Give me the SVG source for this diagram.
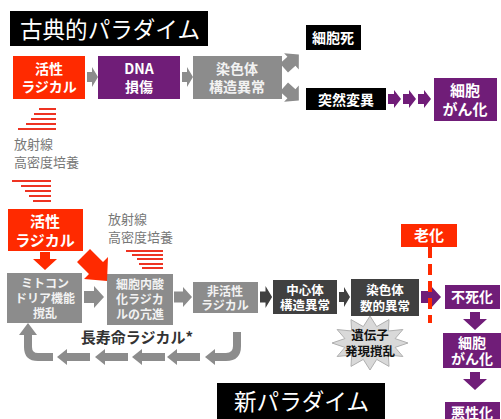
<svg xmlns="http://www.w3.org/2000/svg" width="501" height="419" viewBox="0 0 501 419">
<style>
text{font-family:"Noto Sans CJK JP","Noto Sans",sans-serif;font-weight:bold;text-anchor:middle}
.t{fill:#fff;font-size:14px}
.tl{fill:#f2f2f2;font-size:12px}
.title{fill:#fff;font-size:23px;font-weight:normal;text-anchor:start}
.note{fill:#777;font-size:13px;font-weight:normal;text-anchor:start}
.red{fill:#ff2a00}
.pur{fill:#701d78}
.gry{fill:#8c8c8c}
.drk{fill:#404040}
.blk{fill:#000}
.ray{stroke:#ee3322;stroke-width:2}
.gl{fill:#8c8c8c}
</style>
<defs>
<path id="ba" d="M0,-5 H5 V-10 L11,0 L5,10 V5 H0 Z"/>
<path id="bb" d="M0,-6 H10 V-11 L20,0 L10,11 V6 H0 Z"/>
<path id="ch" d="M0,-5 H6 V-9 L13,0 L6,9 V5 H0 Z"/>
<path id="dn" d="M-5,0 H5 V7 H12 L0,18 L-12,7 H-5 Z"/>
<path id="lf" d="M0,0 L10,-8 V-4 H33 V4 H10 V8 Z"/>
</defs>

<g id="title-classic"><rect x="10" y="11" width="198" height="35" class="blk"/><text x="20" y="38" class="title" textLength="180" lengthAdjust="spacingAndGlyphs">古典的パラダイム</text></g>

<g id="n-radical1"><rect x="13" y="56" width="72" height="43" class="red"/><text x="49" y="74" class="t">活性</text><text x="49" y="92" class="t">ラジカル</text></g>
<g id="n-dna"><rect x="98" y="56" width="82" height="43" class="pur"/><text x="139" y="74" class="t">DNA</text><text x="139" y="92" class="t">損傷</text></g>
<g id="n-chrom1"><rect x="193" y="56" width="89" height="43" class="gry"/><text x="237" y="74" class="tl" style="font-size:14px">染色体</text><text x="237" y="92" class="tl" style="font-size:14px">構造異常</text></g>
<g id="n-death"><rect x="306" y="25" width="55" height="25" class="blk"/><text x="333" y="43" class="t">細胞死</text></g>
<g id="n-mut"><rect x="306" y="88" width="80" height="22" class="blk"/><text x="346" y="105" class="t">突然変異</text></g>
<g id="n-cancer1"><rect x="434" y="78" width="63" height="43" class="pur"/><text x="465" y="96" class="t" style="font-size:15px">細胞</text><text x="465" y="115" class="t" style="font-size:15px">がん化</text></g>

<g id="rays1">
<line x1="39" y1="109" x2="56" y2="109" class="ray"/>
<line x1="34" y1="114" x2="56" y2="114" class="ray"/>
<line x1="31" y1="119" x2="56" y2="119" class="ray"/>
<line x1="26" y1="124" x2="56" y2="124" class="ray"/>
<line x1="18" y1="129" x2="56" y2="129" class="ray"/>
</g>
<g id="note1"><text x="14" y="149" class="note">放射線</text><text x="14" y="167" class="note">高密度培養</text></g>
<g id="rays2">
<line x1="12" y1="181" x2="51" y2="181" class="ray"/>
<line x1="21" y1="186" x2="51" y2="186" class="ray"/>
<line x1="25" y1="191" x2="51" y2="191" class="ray"/>
<line x1="29" y1="196" x2="51" y2="196" class="ray"/>
<line x1="33" y1="201" x2="51" y2="201" class="ray"/>
</g>

<g id="n-radical2"><rect x="8" y="209" width="75" height="42" class="red"/><text x="45" y="227" class="t" style="font-size:15px">活性</text><text x="45" y="246" class="t" style="font-size:15px">ラジカル</text></g>
<g id="note2"><text x="108" y="224" class="note">放射線</text><text x="108" y="242" class="note">高密度培養</text></g>
<g id="rays3">
<line x1="126" y1="251" x2="163" y2="251" class="ray"/>
<line x1="132" y1="255" x2="163" y2="255" class="ray"/>
<line x1="137" y1="259" x2="163" y2="259" class="ray"/>
<line x1="139" y1="264" x2="163" y2="264" class="ray"/>
<line x1="142" y1="268" x2="163" y2="268" class="ray"/>
</g>

<g id="n-mito"><rect x="7" y="273" width="75" height="50" class="gry"/><text x="45" y="288" class="tl">ミトコン</text><text x="45" y="303" class="tl">ドリア機能</text><text x="45" y="318" class="tl">撹乱</text></g>
<g id="n-oxid"><rect x="107" y="274" width="66" height="51" class="gry"/><text x="140" y="289" class="tl">細胞内酸</text><text x="140" y="304" class="tl">化ラジカ</text><text x="140" y="319" class="tl">ルの亢進</text></g>
<g id="n-inact"><rect x="193" y="282" width="65" height="31" class="gry"/><text x="225" y="296" class="tl">非活性</text><text x="225" y="310" class="tl">ラジカル</text></g>
<g id="n-centro"><rect x="273" y="280" width="64" height="34" class="drk"/><text x="305" y="295" class="t" style="font-size:12.5px">中心体</text><text x="305" y="310" class="t" style="font-size:12.5px">構造異常</text></g>
<g id="n-chrom2"><rect x="351" y="279" width="68" height="37" class="drk"/><text x="385" y="295" class="t" style="font-size:12.5px">染色体</text><text x="385" y="311" class="t" style="font-size:12.5px">数的異常</text></g>
<g id="n-immortal"><rect x="445" y="285" width="55" height="24" class="pur"/><text x="472" y="302" class="t">不死化</text></g>
<g id="n-cancer2"><rect x="443" y="333" width="58" height="35" class="pur"/><text x="472" y="348" class="t">細胞</text><text x="472" y="364" class="t">がん化</text></g>
<g id="n-malig"><rect x="445" y="402" width="55" height="20" class="pur"/><text x="472" y="418" class="t">悪性化</text></g>
<g id="n-aging"><rect x="401" y="224" width="56" height="23" class="red"/><text x="429" y="241" class="t" style="font-size:15px">老化</text></g>
<g id="n-gene"><polygon points="408,343 395.1,347.4 402.9,356.5 388.4,355 389,366.4 376.7,359.4 370,370 363.3,359.4 351,366.4 351.6,355 337.1,356.5 344.9,347.4 332,343 344.9,338.6 337.1,329.5 351.6,331 351,319.6 363.3,326.6 370,316 376.7,326.6 389,319.6 388.4,331 402.9,329.5 395.1,338.6" fill="#d9d9d9" stroke="#b0b0b0" stroke-width="1"/><text x="370" y="340" style="font-size:12.5px;fill:#111">遺伝子</text><text x="370" y="356" style="font-size:12.5px;fill:#111">発現撹乱</text></g>
<g id="n-label"><text x="137" y="343" style="font-size:15px;fill:#333">長寿命ラジカル*</text></g>
<g id="title-new"><rect x="217" y="383" width="168" height="36" class="blk"/><text x="234" y="410" class="title" textLength="135" lengthAdjust="spacingAndGlyphs">新パラダイム</text></g>

<g id="connectors">
<use href="#ba" x="87" y="77" class="gl"/>
<use href="#ba" x="182" y="77" class="gl"/>
<use href="#bb" transform="translate(284,68) rotate(-42)" class="gl"/>
<use href="#bb" transform="translate(284,87) rotate(42)" class="gl"/>
<use href="#ch" x="388" y="99" class="pur"/>
<use href="#ch" x="403" y="99" class="pur"/>
<use href="#ch" x="418" y="99" class="pur"/>
<use href="#dn" x="45" y="252" class="red"/>
<path d="M83,256 L90,249 L103,262 L108,257 L107,281 L84,279 L89,274 L77,262 Z" class="red"/>
<use href="#bb" x="84" y="297" class="gl"/>
<use href="#bb" transform="translate(174,297) scale(0.9)" class="gl"/>
<use href="#ba" transform="translate(260,297) scale(1.1)" class="drk"/>
<use href="#ba" transform="translate(339,297)" class="drk"/>
<use href="#bb" x="421" y="297" class="pur"/>
<use href="#dn" x="475" y="312" class="pur"/>
<use href="#dn" x="475" y="372" class="pur"/>
<line x1="430" y1="247" x2="430" y2="323" stroke="#ff2a00" stroke-width="4" stroke-dasharray="11 6"/>
<path d="M237,332 V346 Q237,357 226,357 H214" fill="none" stroke="#8c8c8c" stroke-width="8"/>
<polygon points="205,357 215,349 215,365" class="gl"/>
<use href="#lf" x="167" y="357" class="gl"/>
<use href="#lf" x="132" y="357" class="gl"/>
<use href="#lf" x="95" y="357" class="gl"/>
<use href="#lf" x="57" y="357" class="gl"/>
<path d="M53,357 H38 Q28,357 28,347 V334" fill="none" stroke="#8c8c8c" stroke-width="8"/>
<polygon points="28,323 19,335 37,335" class="gl"/>
</g>
</svg>
